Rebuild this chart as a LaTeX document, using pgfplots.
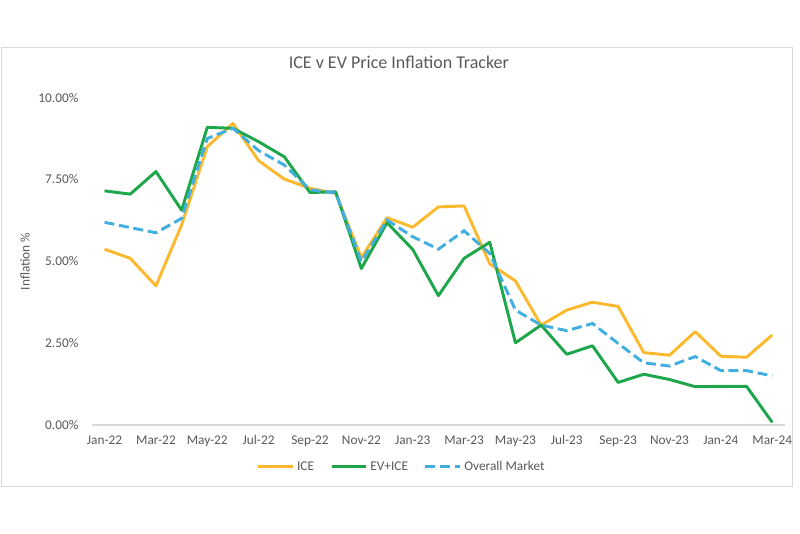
\documentclass[border=0pt]{standalone}
\usepackage{pgfplots}
\pgfplotsset{compat=1.18}
\usepackage{pgfplotstable}
\usepackage{fontspec}
\setmainfont{Carlito}

\definecolor{iceC}{HTML}{FDB92D}
\definecolor{evC}{HTML}{1DA64A}
\definecolor{allC}{HTML}{41AEE0}
\definecolor{txt}{HTML}{595959}
\definecolor{frameC}{HTML}{D9D9D9}

% month index, ICE, EV+ICE, overall market (% inflation)
\pgfplotstableread{
x  ice   ev    all
0  5.37  7.15  6.19
1  5.09  7.05  6.03
2  4.25  7.74  5.87
3  6.11  6.56  6.31
4  8.50  9.09  8.75
5  9.21  9.06  9.06
6  8.07  8.65  8.38
7  7.51  8.19  7.94
8  7.23  7.10  7.18
9  7.07  7.12  7.09
10 5.11  4.78  4.99
11 6.33  6.18  6.26
12 6.04  5.36  5.75
13 6.66  3.95  5.37
14 6.69  5.09  5.93
15 4.92  5.58  5.24
16 4.40  2.51  3.51
17 3.05  3.05  3.05
18 3.51  2.16  2.88
19 3.75  2.42  3.10
20 3.62  1.30  2.49
21 2.21  1.55  1.90
22 2.13  1.39  1.80
23 2.85  1.17  2.09
24 2.10  1.18  1.66
25 2.07  1.18  1.66
26 2.75  0.08  1.50
}\data

\begin{document}
\begin{tikzpicture}
\begin{axis}[
    scale only axis,
    width=520pt,
    height=245.6pt,
    xmin=-0.5, xmax=26.5,
    ymin=0, ymax=10,
    axis line style={draw=none},
    tick style={draw=none},
    xtick={0,2,...,26},
    xticklabels={Jan-22,Mar-22,May-22,Jul-22,Sep-22,Nov-22,Jan-23,Mar-23,May-23,Jul-23,Sep-23,Nov-23,Jan-24,Mar-24},
    ytick={0,2.5,5,7.5,10},
    yticklabels={0.00\%,2.50\%,5.00\%,7.50\%,10.00\%},
    tick label style={font=\fontsize{10}{12}\selectfont, text=txt},
    yticklabel style={xshift=-6.5pt},
    xticklabel style={yshift=-4.5pt},
    ylabel={Inflation \%},
    ylabel style={at={(axis description cs:-0.0962,0.5)}, anchor=center, font=\fontsize{10}{12}\selectfont, text=txt},
    title={ICE v EV Price Inflation Tracker},
    title style={at={(axis description cs:0.443,1.084)}, anchor=center, font=\fontsize{13.5}{16}\selectfont, text=txt},
    legend columns=3,
    legend style={at={(axis description cs:0.4476,-0.1273)}, anchor=center, draw=none,
        font=\fontsize{10}{12}\selectfont, text=txt,
        /tikz/every even column/.append style={column sep=10pt},
        nodes={inner xsep=2pt}},
    legend image code/.code={\draw[#1] (0pt,0pt) -- (26pt,0pt);},
    clip=false,
]
\draw[frameC, line width=0.8pt] (rel axis cs:0,0) -- (rel axis cs:1,0);
\addplot[iceC, line width=2.2pt, line join=round] table[x=x, y=ice] {\data};
\addplot[evC, line width=2.2pt, line join=round] table[x=x, y=ev] {\data};
\addplot[allC, line width=2.2pt, dash pattern=on 7.5pt off 3.5pt] table[x=x, y=all] {\data};
\legend{ICE, EV+ICE, Overall Market}
\end{axis}
\draw[frameC, line width=0.75pt] (-68pt,-45.75pt) rectangle (525.2pt,282.75pt);
\pgfresetboundingbox
\path (-68.8pt,-81pt) rectangle (531.2pt,318.75pt);
\end{tikzpicture}
\end{document}
